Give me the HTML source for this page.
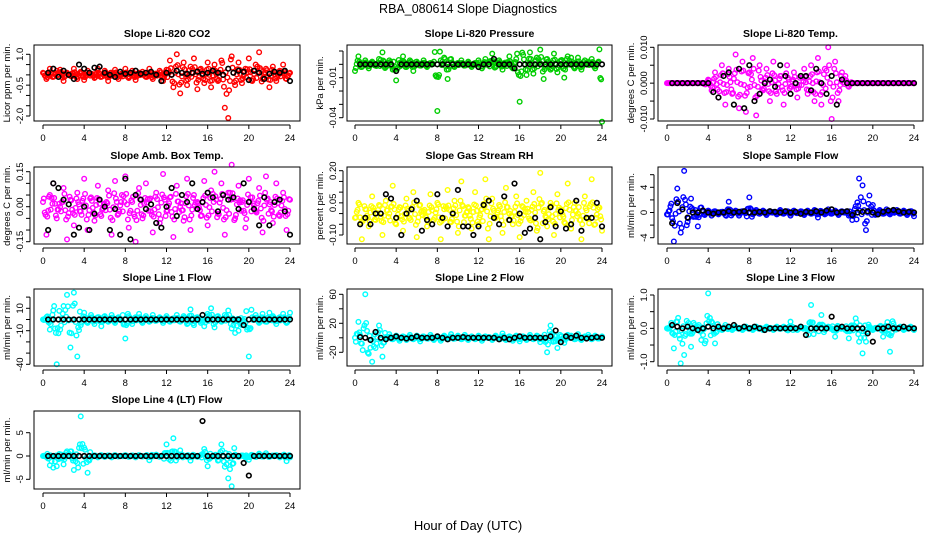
<!DOCTYPE html>
<html><head><meta charset="utf-8"><style>
html,body{margin:0;padding:0;background:#fff;}
svg{display:block;font-family:"Liberation Sans",sans-serif;}
</style></head><body>
<svg id="chart" width="936" height="540" viewBox="0 0 936 540" xmlns="http://www.w3.org/2000/svg">
<rect x="0" y="0" width="936" height="540" fill="#fff"/>
<text x="468" y="13" text-anchor="middle" font-size="12.5">RBA_080614  Slope Diagnostics</text>
<text x="468" y="530" text-anchor="middle" font-size="13">Hour of Day (UTC)</text>
</svg>
<script>
const xTicks = [0,4,8,12,16,20,24];
const titles = ["Slope Li-820 CO2","Slope Li-820 Pressure","Slope Li-820 Temp.","Slope Amb. Box Temp.","Slope Gas Stream RH","Slope Sample Flow","Slope Line 1 Flow","Slope Line 2 Flow","Slope Line 3 Flow","Slope Line 4 (LT) Flow"];
const yTitles = ["Licor ppm per min.","kPa per min.","degrees C per min.","degrees C per min.","percent per min.","ml/min per min.","ml/min per min.","ml/min per min.","ml/min per min.","ml/min per min."];
const colors = ["#ff0000","#00cd00","#ff00ff","#ff00ff","#ffff00","#0000ff","#00ffff","#00ffff","#00ffff","#00ffff"];
const yTickVals = [[-2,-1.5,-1,-0.5,0,0.5,1],[-0.04,-0.03,-0.02,-0.01,0,0.01],[-0.01,-0.005,0,0.005,0.01],[-0.15,-0.1,-0.05,0,0.05,0.1,0.15],[-0.1,-0.05,0,0.05,0.1,0.15,0.2],[-4,-2,0,2,4,6],[-40,-30,-20,-10,0,10,20],[-20,0,20,40,60],[-1,-0.5,0,0.5,1],[-5,0,5]];
const yTickLabels = [{"1":"1.0","-0.5":"-0.5","-2":"-2.0"},{"-0.01":"-0.01","-0.04":"-0.04"},{"0.01":"0.010","0":"0.000","-0.01":"-0.010"},{"0.15":"0.15","0":"0.00","-0.15":"-0.15"},{"0.2":"0.20","0.05":"0.05","-0.1":"-0.10"},{"4":"4","0":"0","-4":"-4"},{"10":"10","-10":"-10","-40":"-40"},{"60":"60","20":"20","-20":"-20"},{"1":"1.0","0":"0.0","-1":"-1.0"},{"5":"5","0":"0","-5":"-5"}];

const coloredCO2 = [0.1,-0.2,0.3,-0.1,0.2,0.25,-0.3,0.1,0.0,0.3,-0.2,0.15,-0.25,0.2,0.05,-0.15,0.3,-0.1,0.2,-0.3,0.1,0.25,-0.2,0.0,0.3,-0.15,0.2,-0.25,0.1,0.15,-0.1,0.3,-0.2,0.05,0.2,-0.3,0.25,0.7,-0.6,1.0,-0.9,0.6,-0.5,0.4,0.8,-0.7,0.3,-0.4,0.6,-0.6,0.5,-0.3,0.7,-1.6,-2.1,0.9,-0.5,0.6,-0.4,0.3,0.8,-0.3,0.5,1.1,-0.2,0.3,-0.6,0.4,-0.3,0.2,0.5,-0.2,0.1];
const coloredPress = [-0.005,0.006,-0.002,0.003,-0.003,0.002,-0.001,0.004,0.009,-0.002,0.003,-0.004,-0.012,0.001,0.006,-0.002,0.003,-0.005,0.002,-0.001,0.003,-0.002,0.001,0.002,-0.035,0.003,0.005,-0.011,0.004,-0.002,0.001,0.003,-0.001,0.002,-0.002,0.001,0.003,-0.003,0.004,0.002,0.008,-0.002,0.003,-0.004,0.001,0.006,-0.003,0.004,-0.028,0.007,-0.008,0.009,-0.007,0.005,0.011,-0.011,0.004,-0.004,0.008,-0.006,0.003,-0.01,0.006,0.005,-0.003,0.005,-0.004,0.003,0.002,0.004,-0.003,0.002,-0.043];
const coloredLiTemp = [0,0,0,0,0,0,0,0,0,0,0,-0.0003,0.001,-0.002,0.003,-0.004,0.005,-0.006,0.004,-0.003,0.008,-0.007,0.006,-0.008,0.003,0.007,-0.009,0.005,-0.002,0.004,-0.005,0.006,-0.003,0.002,-0.006,0.005,-0.001,0.003,-0.004,0.002,0.004,-0.003,0.005,-0.005,0.007,-0.006,0.004,0.010,-0.010,0.006,-0.005,0.003,0.002,-0.001,0,0,0,0,0,0,0,0,0,0,0,0,0,0,0,0,0,0,0];
const coloredAmb = [0.02,-0.12,0.05,0.1,-0.05,0.0,0.08,-0.14,0.03,-0.08,0.06,-0.02,0.12,-0.1,0.04,-0.06,0.09,-0.04,0.01,0.07,-0.12,0.11,-0.03,0.05,0.13,-0.09,0.02,-0.15,0.08,-0.05,0.1,0.03,-0.11,0.06,-0.07,0.14,-0.02,0.04,-0.13,0.09,0.0,-0.06,0.12,-0.1,0.05,0.02,-0.04,0.11,-0.08,0.07,0.15,-0.03,0.1,-0.12,0.06,0.18,-0.05,0.09,0.02,-0.09,0.12,0.04,-0.02,0.08,-0.11,0.13,0.01,-0.07,0.1,-0.04,0.06,-0.1,0.03];
const coloredRH = [-0.02,0.05,-0.12,0.02,-0.06,0.08,-0.03,0.04,-0.1,0.06,0.0,0.13,-0.05,0.03,-0.08,0.07,-0.02,0.1,-0.11,0.04,0.01,-0.06,0.09,-0.03,0.05,-0.12,0.02,0.11,-0.04,0.06,-0.09,0.15,-0.01,0.03,-0.07,0.1,-0.05,0.02,0.16,-0.12,0.07,-0.02,0.04,-0.09,0.12,0.0,-0.05,0.08,-0.11,0.03,0.06,-0.03,0.1,-0.08,0.19,0.01,-0.06,0.05,-0.1,0.09,0.02,-0.04,0.14,-0.07,0.05,0.0,-0.12,0.08,-0.02,0.16,-0.05,0.03,-0.08];
const coloredSample = [-0.3,1.0,-4.6,3.8,-3.2,6.6,-1.5,2.2,-0.6,-2.2,0.8,-0.4,0.3,-0.5,0.2,-0.3,0.1,-0.4,1.7,-0.2,0.3,-0.5,0.2,-0.1,2.4,-0.3,0.4,-0.2,0.3,-0.4,0.2,0.1,-0.3,0.4,-0.2,0.2,-0.5,0.3,-0.1,0.2,-0.4,0.3,-0.2,0.4,-0.8,0.2,-0.3,0.5,-0.2,0.3,-0.4,0.2,0.1,-0.5,-1.2,1.0,5.4,4.3,-2.8,2.7,1.2,-0.3,0.4,-0.2,0.5,-0.3,0.2,0.4,-0.2,0.3,-0.4,0.2,-0.6];
const coloredLine1 = [0,2,-9,8,-40,-9,12,22,-25,24,-33,-5,6,-3,4,-4,2,-6,3,-2,4,-3,2,-1,-17,3,-4,2,5,-3,3,-2,4,-1,2,-3,3,-2,1,4,-2,3,-4,9,-5,2,-3,-6,5,10,-7,3,-2,4,8,-8,-12,-10,-5,-3,-33,2,4,-3,5,-2,6,3,-4,2,5,-3,6];
const coloredLine2 = [0,22,-8,60,-22,-33,-14,17,-26,1,5,-2,3,-4,2,-3,4,-2,3,-5,2,-1,4,-3,2,-4,3,-2,5,-1,3,-2,4,-3,2,-2,3,-4,2,1,-3,3,-2,6,-3,2,-4,3,-5,2,-3,4,-2,3,-6,-3,-20,17,-5,-14,2,-7,4,3,-2,5,-3,2,4,-2,3,-1,2];
const coloredLine3 = [0.0,0.05,-0.6,0.2,-1.05,-0.8,0.1,-0.55,0.1,0.05,-0.35,-0.45,1.05,0.2,-0.45,0.05,-0.05,0.1,0.0,-0.05,0.05,0.0,-0.05,0.05,0.0,-0.05,0.05,0.0,-0.05,0.05,0.0,-0.05,0.05,0.0,0.05,-0.05,0.2,0.0,-0.05,0.05,0.0,-0.05,0.7,0.0,0.05,0.4,-0.05,0.05,0.0,-0.25,0.05,0.0,-0.05,-0.3,0.05,0.3,-0.4,-0.75,-0.4,0.05,-0.05,0.0,0.05,-0.25,0.05,-0.7,0.15,0.0,0.05,-0.05,0.0,0.05,-0.05];
const coloredLine4 = [0,-0.2,-2,-2.5,-2.2,-0.5,-1.8,1,1,-3,-1.5,8.5,1.8,-3.6,-0.3,0.1,-0.3,0.2,-0.2,0.1,-0.3,0.2,-0.1,0.0,0.2,-0.2,0.1,-0.3,0.2,-0.1,0.0,-0.9,0.1,0.3,-0.2,0.1,2.5,-0.2,3.8,-0.1,1.2,0.0,-0.2,-1,0.1,-0.2,0.2,1.5,-2.2,-0.3,0.1,-1,2.5,-2.3,-4.8,-6.5,0.3,-0.2,0.1,-0.3,-0.8,0.2,-0.2,0.5,0.1,0.6,-0.2,0.1,0.2,-0.3,0.1,-1.1,-0.3];

const blackCO2 = [0.1,0.3,-0.1,0.2,0.0,-0.2,0.5,0.3,0.1,0.35,0.4,0.1,0.0,-0.1,0.15,0.05,0.1,0.2,0.05,0.1,0.15,0.0,-0.3,0.1,0.0,0.2,0.1,0.05,0.1,0.15,0.05,0.1,0.2,0.1,0.0,0.3,0.1,0.2,0.15,-0.25,0.2,0.1,-0.2,0.05,0.15,0.1,0.2,-0.3];
const blackPress = [0,0,0,0,0,0,0,-0.005,0,0,0,0,0,0,0,0,0,0,0,0,0,0,0,-0.002,0,0,0.004,0,0,0,-0.003,0,0,0,0,0,0,0,0,0,0,0,0,0,0,0,0,0];
const blackLiTemp = [0,0,0,0,0,0,0,0,-0.0025,-0.004,0.002,0.003,-0.006,0.004,-0.007,0.005,-0.005,-0.003,0,0.001,-0.001,0.005,0.002,-0.003,0,0.002,0.002,-0.002,0.004,0,-0.003,0.002,-0.006,0.001,0,0,0,0,0,0,0,0,0,0,0,0,0,0];
const blackAmb = [-0.1,0.1,0.08,0.03,0.01,-0.12,-0.09,0.0,-0.1,-0.03,0.03,0.0,-0.1,-0.01,-0.12,0.12,-0.14,0.05,0.03,-0.01,0.01,-0.07,-0.09,0.0,0.08,-0.04,0.05,0.02,0.1,-0.01,0.02,0.06,0.04,-0.02,0.05,0.03,0.04,-0.01,0.1,0.02,-0.01,-0.08,0.04,-0.08,0.02,0.03,-0.02,-0.12];
const blackRH = [-0.05,-0.02,-0.05,0.0,0.0,0.09,0.07,-0.02,-0.1,0.0,0.02,0.06,-0.08,-0.03,-0.05,0.09,-0.02,-0.06,0.0,0.11,-0.06,-0.06,-0.1,-0.06,0.04,0.06,-0.02,-0.05,0.08,-0.03,0.14,0.0,-0.09,-0.07,-0.02,-0.12,-0.04,0.03,-0.06,0.01,-0.07,-0.05,0.06,-0.08,-0.02,-0.02,0.05,-0.06];
const blackSample = [-1.7,1.5,0.5,-0.8,0,0,0.3,0,-0.2,0,0,0.2,0,0.1,0.2,0,0,0.1,0,0.2,0.1,0,0.2,0,0.1,-0.2,0.1,0,0.2,0,0.3,0.5,0,0.1,0.2,-0.4,0,0.1,0.2,0,-0.3,0.1,0.3,0.4,0.2,0,0.1,0];
const blackLine1 = [0,0,0,0,0,0,0,0,0,0,0,0,0,0,0,0,0,0,0,0,0,0,0,0,0,0,0,0,0,0,4,0,0,0,0,0,0,0,-5,0,0,0,0,0,0,0,0,0];
const blackLine2 = [1,0,-3,8,0,-2,0,2,0,-1,0,2,0,0,0,2,0,-2,0,0,1,0,0,0,0,0,0,-2,0,-2,0,2,0,0,0,0,0,2,10,-6,2,0,3,0,-1,0,1,0];
const blackLine3 = [0.1,0.05,0,0.05,0,-0.05,0,0.05,0,0.05,0,0.05,0.1,0,0.05,0,0.05,0,-0.05,0,0,0,0,0,0,0.05,-0.2,0,0,0,0,0.35,0,0.05,0,0,0,0,-0.15,-0.4,0,0,0.05,0,0,0.05,0,0];
const blackLine4 = [0,0,0,0,0,0,0,0,0,0,0,0,0,0,0,0,0,0,0,0,0,0,0,0,0,0,0,0,0,0,7.5,0,0,0,0,0,0,0,-1.5,-4.2,0,0,0,0,0,0,0,0];

const coloredSeries = [coloredCO2,coloredPress,coloredLiTemp,coloredAmb,coloredRH,coloredSample,coloredLine1,coloredLine2,coloredLine3,coloredLine4];
const blackSeries = [blackCO2,blackPress,blackLiTemp,blackAmb,blackRH,blackSample,blackLine1,blackLine2,blackLine3,blackLine4];

const colBox = [[34,300,43,290],[347,612,355,602],[658,923,667,914]];
const rowBox = [[45,121],[167,244],[289,366],[411,489]];
const yCal = [[1,54.3,-2,116],[0.01,51,-0.04,117.7],[0.01,47.3,-0.01,119],[0.15,171.7,-0.15,241.7],[0.2,170.7,-0.1,235],[4,187.3,-4,237.7],[10,308.3,-40,364.3],[60,294.3,-20,352.3],[1,295,-1,361.7],[5,432.7,-5,479.3]];

const NS = "http://www.w3.org/2000/svg";
const svg = document.getElementById("chart");
function mk(tag, attrs, parent){ const e=document.createElementNS(NS,tag); for(const k in attrs) e.setAttribute(k,attrs[k]); (parent||svg).appendChild(e); return e; }
const R = 2.3, SW = 1.4;

for (let p=0;p<10;p++){
  const col=colBox[p%3], row=rowBox[Math.floor(p/3)];
  const g = mk("g",{});
  
  
  const xScale = h => col[2] + (col[3]-col[2])*h/24;
  const c = yCal[p];
  const yScale = v => c[1] + (v-c[0])*(c[3]-c[1])/(c[2]-c[0]);
  const t = mk("text",{x:(col[0]+col[1])/2,y:row[0]-8,"text-anchor":"middle","font-size":"10.5","font-weight":"bold"},g);
  t.textContent = titles[p];
  
  
  const cs = coloredSeries[p];
  const n = cs.length-1;
  cs.forEach((v,i)=>{
    const pt = mk("circle",{cx:xScale(i*24/n),cy:yScale(v),r:R,fill:"none",stroke:colors[p],"stroke-width":SW},g);
    
    
  });
  cs.forEach((v,i)=>{
    if(i===0) return;
    const a = (v + cs[i-1])/2*0.5, b = (cs[i-1]-v)*0.25;
    [[i-0.5,a],[i-0.75,b],[i-0.25,-b]].forEach(q=>{
      const pt = mk("circle",{cx:xScale(q[0]*24/n),cy:yScale(q[1]),r:R,fill:"none",stroke:colors[p],"stroke-width":SW},g);
      
      
    });
  });
  const bs = blackSeries[p];
  bs.forEach((v,i)=>{
    const pt = mk("circle",{cx:xScale(0.5+i*0.5),cy:yScale(v),r:R,fill:"none",stroke:"#000","stroke-width":SW+0.2},g);
    
    
  });
  const box = mk("rect",{x:col[0],y:row[0],width:col[1]-col[0],height:row[1]-row[0],fill:"none",stroke:"#000","stroke-width":1},g);
  
  
  const xa = mk("g",{},g);
  
  
  mk("line",{x1:xScale(0),x2:xScale(24),y1:row[1]+4,y2:row[1]+4,stroke:"#000"},xa);
  xTicks.forEach(v=>{
    mk("line",{x1:xScale(v),x2:xScale(v),y1:row[1]+4,y2:row[1]+8,stroke:"#000"},xa);
    const tl = mk("text",{x:xScale(v),y:row[1]+20,"text-anchor":"middle","font-size":"9.5"},xa);
    tl.textContent = v;
    
    
  });
  const ya = mk("g",{},g);
  
  
  const tv = yTickVals[p];
  const ax = col[0]-4;
  mk("line",{x1:ax,x2:ax,y1:yScale(tv[0]),y2:yScale(tv[tv.length-1]),stroke:"#000"},ya);
  tv.forEach(v=>{
    const y = yScale(v);
    mk("line",{x1:ax-4,x2:ax,y1:y,y2:y,stroke:"#000"},ya);
    const lab = yTickLabels[p][String(v)];
    if (lab!==undefined){
      const tl = mk("text",{x:ax-7,y:y,"text-anchor":"middle","font-size":"9.5",transform:"rotate(-90 "+(ax-7)+" "+y+")"},ya);
      tl.textContent = lab;
      
      
    }
  });
  const yt = mk("text",{x:col[0]-24,y:(row[0]+row[1])/2,"text-anchor":"middle","font-size":"9.5",transform:"rotate(-90 "+(col[0]-24)+" "+((row[0]+row[1])/2)+")"},g);
  yt.textContent = yTitles[p];
  
  
}
</script>
</body></html>
